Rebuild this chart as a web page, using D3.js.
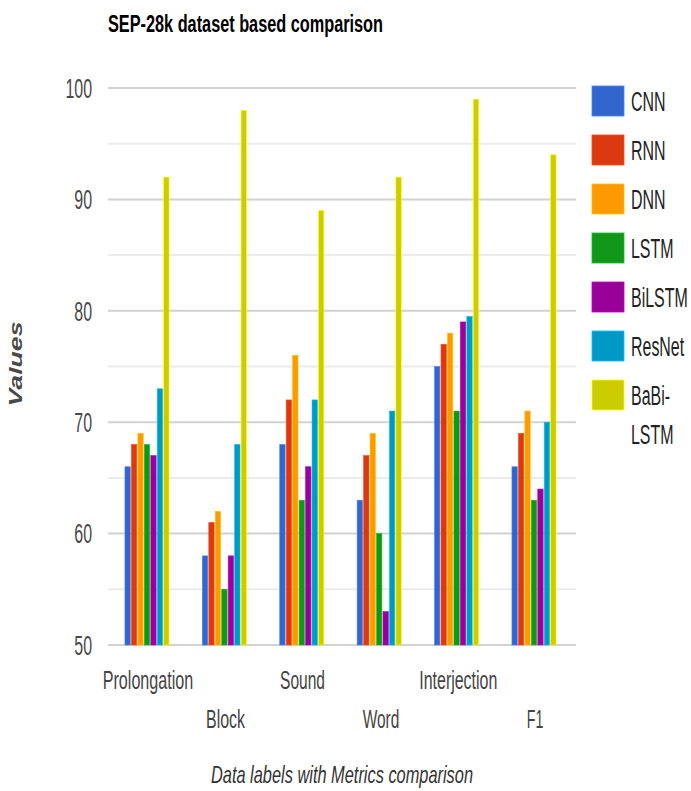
<!DOCTYPE html>
<html>
<head>
<meta charset="utf-8">
<script src="https://cdn.jsdelivr.net/npm/d3@7"></script>
<style>
  html, body { margin: 0; padding: 0; background: #fff; }
  svg { display: block; font-family: "Liberation Sans", Arial, sans-serif; }
</style>
</head>
<body>
<svg id="chart" width="691" height="791"></svg>
<script>
// Metric categories (x groups)
const categories = ["Prolongation", "Block", "Sound", "Word", "Interjection", "F1"];
// Models compared
const seriesNames = ["CNN", "RNN", "DNN", "LSTM", "BiLSTM", "ResNet", "BaBi-LSTM"];
const seriesColors = ["#3366cc", "#dc3912", "#ff9900", "#109618", "#990099", "#0099c6", "#cccc00"];
// Scores per model, one value per category
const cnn      = [66, 58, 68, 63, 75, 66];
const rnn      = [68, 61, 72, 67, 77, 69];
const dnn      = [69, 62, 76, 69, 78, 71];
const lstm     = [68, 55, 63, 60, 71, 63];
const bilstm   = [67, 58, 66, 53, 79, 64];
const resnet   = [73, 68, 72, 71, 79.5, 70];
const babilstm = [92, 98, 89, 92, 99, 94];
const seriesValues = [cnn, rnn, dnn, lstm, bilstm, resnet, babilstm];
// Axis ticks
const majorTicks = [50, 60, 70, 80, 90, 100];
const minorTicks = [55, 65, 75, 85, 95];

const svg = d3.select("#chart");

const plot = { left: 108, right: 576, top: 88, bottom: 645 };

const y = d3.scaleLinear().domain([50, 100]).range([plot.bottom, plot.top]);

const step = 77.4;
const x0 = d3.scaleBand()
  .domain(categories)
  .range([147 - step / 2, 147 - step / 2 + step * categories.length])
  .paddingInner(0.43)
  .paddingOuter(0.215);

const x1 = d3.scaleBand()
  .domain(seriesNames)
  .range([0, x0.bandwidth()])
  .paddingInner(0.17);

const color = d3.scaleOrdinal().domain(seriesNames).range(seriesColors);

// Text helper: squeezed horizontally to the narrow look of the chart
function label(parent, str, x, yy, opts) {
  const g = parent.append("g")
    .attr("transform", `translate(${x},${yy}) scale(${opts.sx || 1},1)${opts.rotate ? " rotate(" + opts.rotate + ")" : ""}`);
  const t = g.append("text")
    .text(str)
    .attr("font-size", opts.size)
    .attr("fill", opts.fill || "#222")
    .attr("text-anchor", opts.anchor || "start")
    .attr("font-weight", opts.weight || "normal")
    .attr("font-style", opts.style || "normal");
  if (opts.dy) t.attr("dy", opts.dy);
  return t;
}

// Gridlines
svg.append("g").selectAll("line.minor")
  .data(minorTicks).join("line")
  .attr("x1", plot.left).attr("x2", plot.right)
  .attr("y1", d => y(d)).attr("y2", d => y(d))
  .attr("stroke", "#ebebeb").attr("stroke-width", 2);

svg.append("g").selectAll("line.major")
  .data(majorTicks).join("line")
  .attr("x1", plot.left).attr("x2", plot.right)
  .attr("y1", d => y(d)).attr("y2", d => y(d))
  .attr("stroke", "#d2d2d2").attr("stroke-width", 2);

// Y tick labels
const yLabels = svg.append("g");
majorTicks.forEach(v => {
  label(yLabels, String(v), 92, y(v), { size: 28, sx: 0.57, anchor: "end", fill: "#4a4a4a", dy: "0.35em" });
});

// Bars
const groups = svg.append("g").selectAll("g")
  .data(categories).join("g")
  .attr("transform", d => `translate(${x0(d)},0)`);

groups.selectAll("rect")
  .data((c, ci) => seriesNames.map((s, si) => ({ s, v: seriesValues[si][ci] })))
  .join("rect")
  .attr("x", d => x1(d.s))
  .attr("y", d => y(d.v))
  .attr("width", x1.bandwidth())
  .attr("height", d => y(50) - y(d.v))
  .attr("fill", d => color(d.s))
  .attr("stroke", d => d3.color(color(d.s)).brighter(0.7))
  .attr("stroke-width", 0.6);

// X category labels, staggered on two rows
const xLabels = svg.append("g");
const xWidths = [90.6, 39, 45, 36.6, 78, 16.6];
const xCenters = [148, 225.5, 302.5, 381, 458.3, 535];
categories.forEach((c, i) => {
  const row = i % 2 === 0 ? 689 : 728;
  label(xLabels, c, xCenters[i], row, { size: 26, anchor: "middle", fill: "#444" })
    .attr("textLength", xWidths[i]).attr("lengthAdjust", "spacingAndGlyphs");
});

// Title
label(svg, "SEP-28k dataset based comparison", 108, 32, { size: 23, weight: "bold", fill: "#000" })
  .attr("textLength", 275).attr("lengthAdjust", "spacingAndGlyphs");

// Axis titles
label(svg, "Data labels with Metrics comparison", 342, 783, { size: 24, style: "italic", anchor: "middle", fill: "#333" })
  .attr("textLength", 262).attr("lengthAdjust", "spacingAndGlyphs");

label(svg, "Values", 22, 364, { size: 26, style: "italic", weight: "bold", anchor: "middle", fill: "#4a4a4a", rotate: -90, sx: 0.72 })
  .attr("textLength", 85).attr("lengthAdjust", "spacingAndGlyphs");

// Legend
const legend = svg.append("g");
const legendTop = 86, legendStep = 49;
seriesNames.forEach((s, i) => {
  const ly = legendTop + i * legendStep;
  legend.append("rect")
    .attr("x", 592).attr("y", ly)
    .attr("width", 32).attr("height", 30)
    .attr("fill", color(s))
    .attr("stroke", d3.color(color(s)).brighter(0.7))
    .attr("stroke-width", 0.8);
  if (s === "BaBi-LSTM") {
    label(legend, "BaBi-", 631, ly + 15, { size: 28, sx: 0.57, fill: "#222", dy: "0.35em" });
    label(legend, "LSTM", 631, ly + 54, { size: 28, sx: 0.57, fill: "#222", dy: "0.35em" });
  } else {
    label(legend, s, 631, ly + 15, { size: 28, sx: 0.57, fill: "#222", dy: "0.35em" });
  }
});
</script>
</body>
</html>
